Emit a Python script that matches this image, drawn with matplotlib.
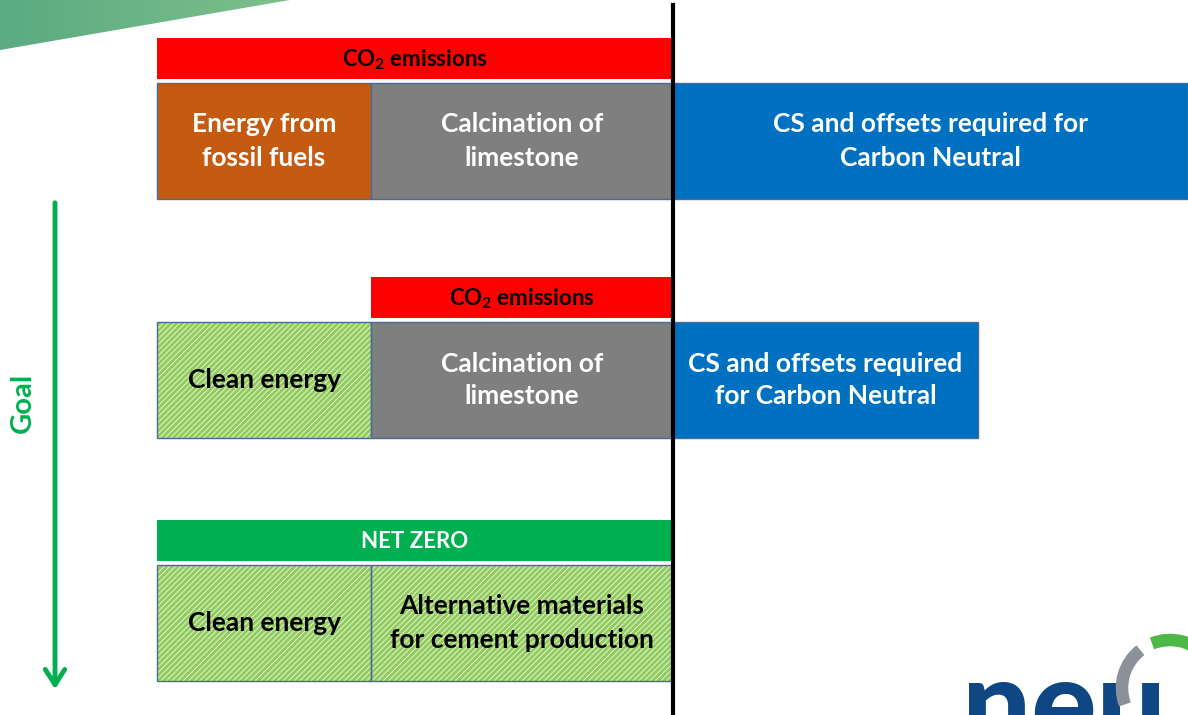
import numpy as np
import matplotlib
matplotlib.use("Agg")
import matplotlib.pyplot as plt
from matplotlib.patches import Polygon, Arc

plt.rcParams['font.family'] = ['Lato', 'DejaVu Sans']
plt.rcParams['mathtext.fontset'] = 'custom'
plt.rcParams['mathtext.rm'] = 'Lato:bold'
plt.rcParams['mathtext.bf'] = 'Lato:bold'
plt.rcParams['hatch.linewidth'] = 2.2

# segment widths of each row (left: energy, middle: process, right: offsets)
energy_w = [214, 214, 214]
process_w = [302, 302, 302]
offset_w = [515, 305, 0]
energy_lbl = ["Energy from\nfossil fuels", "Clean energy", "Clean energy"]
process_lbl = ["Calcination of\nlimestone", "Calcination of\nlimestone",
               "Alternative materials\nfor cement production"]
offset_lbl = ["CS and offsets required for\nCarbon Neutral",
              "CS and offsets required\nfor Carbon Neutral", ""]
energy_clean = [False, True, True]
process_clean = [False, False, True]
header_lbl = ["CO$_\\mathbf{2}$ emissions", "CO$_\\mathbf{2}$ emissions", "NET ZERO"]
header_from = ["energy", "process", "energy"]
header_col = ["#FF0000", "#FF0000", "#00B050"]

x0 = 157
bar_top = [83, 322, 565]
bar_h = 116
head_h = 41
head_gap = 4

fig = plt.figure(figsize=(11.88, 7.15), dpi=100)
ax = fig.add_axes([0, 0, 1, 1])
ax.set_xlim(0, 1188)
ax.set_ylim(715, 0)
ax.axis('off')

# green banner top-left
grad = np.linspace(0, 1, 256).reshape(1, -1)
tri = Polygon([[0, 0], [290, 0], [0, 50]], closed=True, facecolor='none', edgecolor='none')
ax.add_patch(tri)
im = ax.imshow(grad, extent=[0, 290, 50, 0], cmap=matplotlib.colors.LinearSegmentedColormap.from_list(
    'g', ['#5BAA82', '#7DC08A']), aspect='auto', zorder=1)
im.set_clip_path(tri)
ax.set_xlim(0, 1188)
ax.set_ylim(715, 0)

border = '#4A6A9A'


def seg(left, width, top, color, clean, label):
    if clean:
        ax.barh(top + bar_h / 2, width, left=left, height=bar_h, color='#EEF6E6',
                hatch='//////', edgecolor='#92CC5E', linewidth=0, zorder=2)
        ax.barh(top + bar_h / 2, width, left=left, height=bar_h, color='none',
                edgecolor=border, linewidth=1.0, zorder=3)
        tc = 'black'
    else:
        ax.barh(top + bar_h / 2, width, left=left, height=bar_h, color=color,
                edgecolor=border, linewidth=1.0, zorder=2)
        tc = 'white'
    ax.text(left + width / 2, top + bar_h / 2, label, ha='center', va='center',
            color=tc, fontsize=19, fontweight='bold', linespacing=1.45, zorder=4)


for i in range(3):
    top = bar_top[i]
    seg(x0, energy_w[i], top, '#C55A11', energy_clean[i], energy_lbl[i])
    seg(x0 + energy_w[i], process_w[i], top, '#7F7F7F', process_clean[i], process_lbl[i])
    if offset_w[i] > 0:
        seg(x0 + energy_w[i] + process_w[i], offset_w[i], top, '#0070C0', False, offset_lbl[i])
    hl = x0 if header_from[i] == "energy" else x0 + energy_w[i]
    hr = x0 + energy_w[i] + process_w[i]
    ax.barh(top - head_gap - head_h / 2, hr - hl, left=hl, height=head_h,
            color=header_col[i], edgecolor='none', zorder=2)
    ax.text((hl + hr) / 2, top - head_gap - head_h / 2 + 1, header_lbl[i], ha='center',
            va='center', color='black' if header_col[i] == '#FF0000' else 'white',
            fontsize=16, fontweight='bold', zorder=4)

# vertical baseline
xline = x0 + energy_w[0] + process_w[0]
ax.plot([xline, xline], [5, 715], color='black', lw=3, zorder=5)

# goal arrow
ax.annotate('', xy=(55, 692), xytext=(55, 200),
            arrowprops=dict(arrowstyle='->,head_length=1.1,head_width=0.7', color='#00B050', lw=3.5))
ax.text(23, 403, 'Goal', rotation=90, ha='center', va='center', color='#00B050',
        fontsize=21, fontweight='bold')

# logo (partly cut off at the bottom); y axis is inverted so angles are mirrored
ax.text(962, 746, 'neu', color='#0E4783', fontsize=88, fontweight='black',
        ha='left', va='baseline', zorder=6, clip_on=True)
ax.add_patch(Arc((1170, 688), 96, 96, angle=0, theta1=160, theta2=232,
                 color='#8C9098', lw=9, zorder=7))
ax.add_patch(Arc((1170, 688), 96, 96, angle=0, theta1=-112, theta2=40,
                 color='#4DB848', lw=9, zorder=7))

fig.savefig('out.png', dpi=100)
